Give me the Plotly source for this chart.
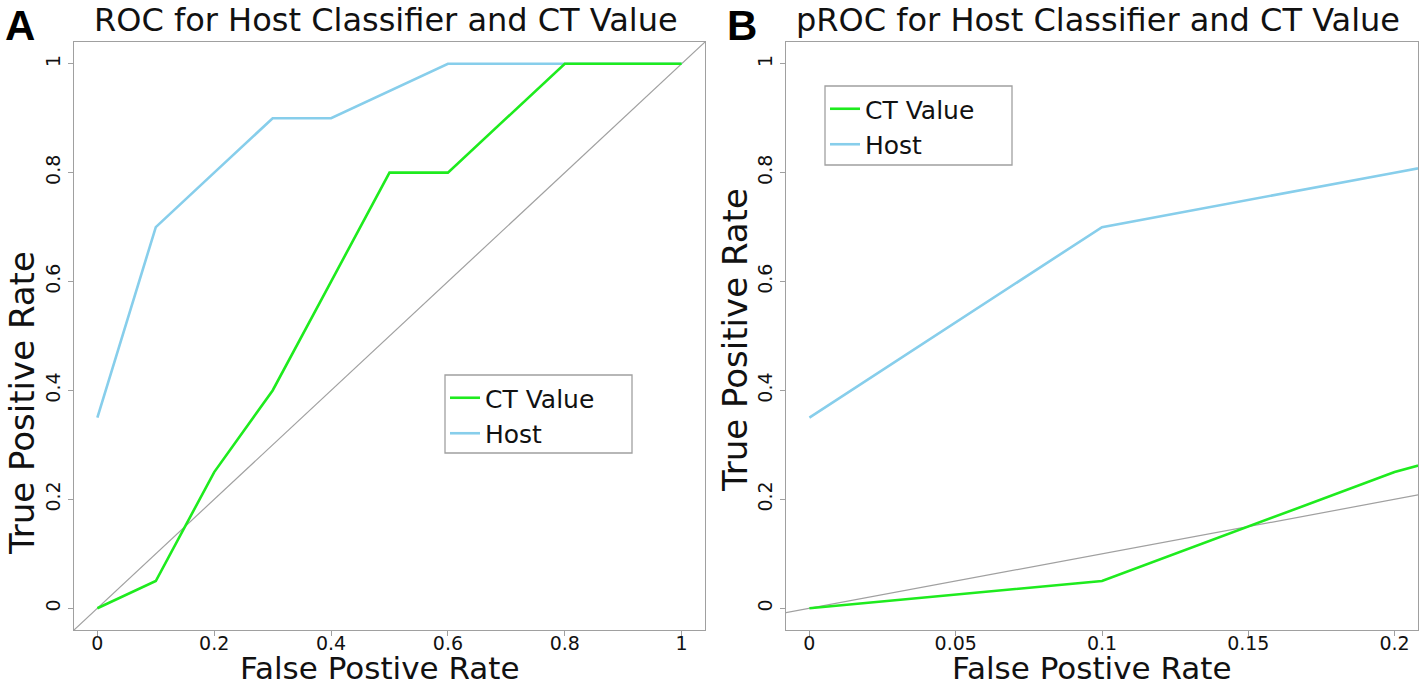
import plotly.graph_objects as go

# ---- data ----
fpr = [0, 0.1, 0.2, 0.3, 0.4, 0.5, 0.6, 0.7, 0.8, 0.9, 1.0]
tpr_host = [0.35, 0.7, 0.8, 0.9, 0.9, 0.95, 1.0, 1.0, 1.0, 1.0, 1.0]
tpr_ct = [0.0, 0.05, 0.25, 0.4, 0.6, 0.8, 0.8, 0.9, 1.0, 1.0, 1.0]
diag = [-0.2, 1.2]

x_ticks_a = [0, 0.2, 0.4, 0.6, 0.8, 1]
x_ticklabels_a = ["0", "0.2", "0.4", "0.6", "0.8", "1"]
x_ticks_b = [0, 0.05, 0.1, 0.15, 0.2]
x_ticklabels_b = ["0", "0.05", "0.1", "0.15", "0.2"]
y_ticks = [0, 0.2, 0.4, 0.6, 0.8, 1]
y_ticklabels = ["0", "0.2", "0.4", "0.6", "0.8", "1"]

titles = ["ROC for Host Classifier and CT Value", "pROC for Host Classifier and CT Value"]
panel_labels = ["A", "B"]
x_title = "False Postive Rate"
y_title = "True Positive Rate"

GREEN = "#1EEB1E"
BLUE = "#87CEEB"
GREY = "#A0A0A0"
FONT = "DejaVu Sans, Liberation Sans, sans-serif"
BFONT = "Liberation Sans, Arial, sans-serif"

W, H = 1421, 688
fig = go.Figure()

for i, (xa, ya, leg) in enumerate([("x", "y", "legend"), ("x2", "y2", "legend2")]):
    fig.add_trace(go.Scatter(x=diag, y=diag, mode="lines", xaxis=xa, yaxis=ya,
                             line=dict(color=GREY, width=1.2), showlegend=False, hoverinfo="skip"))
    fig.add_trace(go.Scatter(x=fpr, y=tpr_host, mode="lines", xaxis=xa, yaxis=ya,
                             line=dict(color=BLUE, width=2.6), name="Host", legend=leg, legendrank=2))
    fig.add_trace(go.Scatter(x=fpr, y=tpr_ct, mode="lines", xaxis=xa, yaxis=ya,
                             line=dict(color=GREEN, width=2.6), name="CT Value", legend=leg, legendrank=1))

def px_x(p):
    return p / W

def px_y(p):
    return 1 - p / H

box_top, box_bot = 42, 630
a_left, a_right = 74, 705
b_left, b_right = 786, 1418

# legend frames (left, top, right, bottom) in pixels
legend_frames = [(445, 375, 632, 453), (825, 86, 1012, 165)]

axis_common = dict(showline=True, linecolor=GREY, linewidth=1.3, mirror=True, ticks="outside",
                   ticklen=5, tickcolor=GREY, tickwidth=1.2, showgrid=False, zeroline=False,
                   automargin=False,
                   tickfont=dict(family=FONT, size=19, color="#111"))

xtitle_font = dict(family=FONT, size=31, color="#111")
ytitle_font = dict(family=FONT, size=34, color="#111")

legend_common = dict(xanchor="left", yanchor="top", borderwidth=0, bgcolor="rgba(0,0,0,0)",
                     font=dict(family=FONT, size=25, color="#111"), itemwidth=30, tracegroupgap=0)

fig.update_layout(
    width=W, height=H, margin=dict(l=0, r=0, t=0, b=0),
    paper_bgcolor="white", plot_bgcolor="white",
    xaxis=dict(domain=[px_x(a_left), px_x(a_right)], range=[-0.04, 1.04], anchor="y",
               tickvals=x_ticks_a, ticktext=x_ticklabels_a, ticklabelstandoff=-9,
               **axis_common),
    yaxis=dict(domain=[px_y(box_bot), px_y(box_top)], range=[-0.04, 1.04], anchor="x",
               tickvals=y_ticks, ticktext=y_ticklabels, tickangle=-90,
               **axis_common),
    xaxis2=dict(domain=[px_x(b_left), px_x(b_right)], range=[-0.008, 0.208], anchor="y2",
                tickvals=x_ticks_b, ticktext=x_ticklabels_b, ticklabelstandoff=-9,
                **axis_common),
    yaxis2=dict(domain=[px_y(box_bot), px_y(box_top)], range=[-0.04, 1.04], anchor="x2",
                tickvals=y_ticks, ticktext=y_ticklabels, tickangle=-90,
                **axis_common),
    legend=dict(x=px_x(legend_frames[0][0]), y=px_y(legend_frames[0][1]), **legend_common),
    legend2=dict(x=px_x(legend_frames[1][0]), y=px_y(legend_frames[1][1]), **legend_common),
    showlegend=True,
)

for (l, t, r, b) in legend_frames:
    fig.add_shape(type="rect", xref="paper", yref="paper",
                  x0=px_x(l), x1=px_x(r), y0=px_y(b), y1=px_y(t),
                  line=dict(color=GREY, width=1.3), fillcolor="white", layer="above")

annotations = []
ytitle_pos = [(22, 403), (735, 340)]
for i, (title, lab) in enumerate(zip(titles, panel_labels)):
    left, right = (a_left, a_right) if i == 0 else (b_left, b_right)
    annotations.append(dict(text=title, x=px_x((left + right) / 2 - 4), y=px_y(20), xref="paper", yref="paper",
                            xanchor="center", yanchor="middle", showarrow=False,
                            font=dict(family=FONT, size=32, color="#111")))
    annotations.append(dict(text="<b>" + lab + "</b>", x=px_x(3 if i == 0 else 725), y=px_y(0), xref="paper",
                            yref="paper", xanchor="left", yanchor="top", showarrow=False,
                            font=dict(family=BFONT, size=42, color="black")))
    annotations.append(dict(text=y_title, x=px_x(ytitle_pos[i][0]), y=px_y(ytitle_pos[i][1]), xref="paper",
                            yref="paper", xanchor="center", yanchor="middle", textangle=-90, showarrow=False,
                            font=ytitle_font))
    annotations.append(dict(text=x_title, x=px_x((left + right) / 2 - 10), y=px_y(688), xref="paper",
                            yref="paper", xanchor="center", yanchor="bottom", showarrow=False,
                            font=xtitle_font))
fig.update_layout(annotations=annotations)

fig.write_html("out.html", config={"displayModeBar": False},
               post_script="document.body.style.margin='0';")
